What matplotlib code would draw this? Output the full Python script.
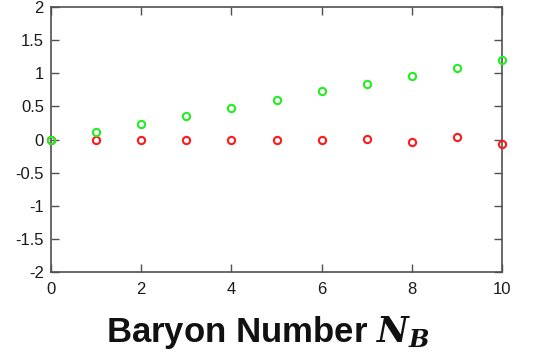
import numpy as np
import matplotlib.pyplot as plt

plt.rcParams['font.family'] = ['Liberation Sans', 'DejaVu Sans']
plt.rcParams['mathtext.fontset'] = 'dejavuserif'

# 数据
baryon_number = [0, 1, 2, 3, 4, 5, 6, 7, 8, 9, 10]
green_vals = [0.0, 0.11, 0.23, 0.36, 0.48, 0.60, 0.73, 0.83, 0.96, 1.08, 1.20]
red_vals = [0.0, 0.0, 0.0, 0.0, -0.015, 0.0, -0.015, 0.015, -0.045, 0.04, -0.07]

xticks = [0, 2, 4, 6, 8, 10]
yticks = [-2, -1.5, -1, -0.5, 0, 0.5, 1, 1.5, 2]
ytick_labels = ['-2', '-1.5', '-1', '-0.5', '0', '0.5', '1', '1.5', '2']

fig = plt.figure(figsize=(5.36, 3.6), dpi=100)
ax = fig.add_axes([0.095, 0.244, 0.842, 0.737])

ax.plot(baryon_number, red_vals, 'o', mfc='none', mec='#ff1a1a', mew=1.5,
        ms=5.2, clip_on=False, zorder=3)
ax.plot(baryon_number, green_vals, 'o', mfc='none', mec='#22ee22', mew=1.5,
        ms=5.2, clip_on=False, zorder=4)

ax.set_xlim(0, 10)
ax.set_ylim(-2, 2)
ax.set_xticks(xticks)
ax.set_yticks(yticks)
ax.set_yticklabels(ytick_labels)
ax.tick_params(direction='in', top=True, right=True, length=6, width=1,
               color='#505050', labelsize=12, pad=5, labelcolor='#1a1a1a')
ax.tick_params(axis='x', pad=7)
for s in ax.spines.values():
    s.set_color('#505050')
    s.set_linewidth(1.2)

ax.set_xlabel(r'Baryon Number $\boldsymbol{N}_{\boldsymbol{B}}$',
              fontsize=25, fontweight='bold', color='#111111')
ax.xaxis.set_label_coords(0.48, -0.158, transform=ax.transAxes)
ax.xaxis.label.set_va('top')

fig.savefig('out.png', dpi=100)
